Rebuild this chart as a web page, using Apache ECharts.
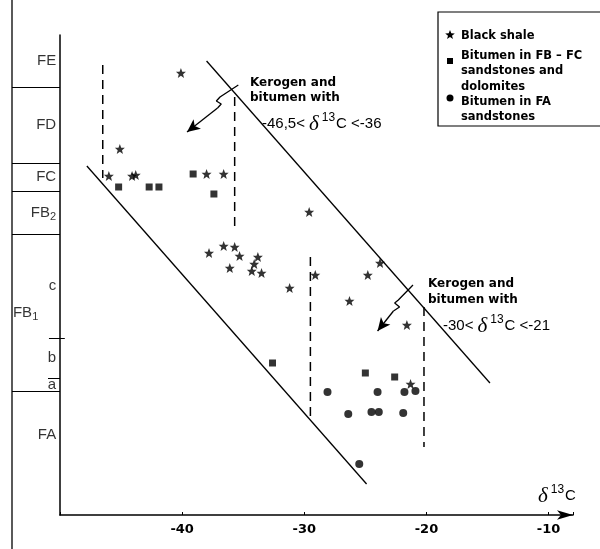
<!DOCTYPE html>
<html>
<head>
<meta charset="utf-8">
<script src="https://cdn.jsdelivr.net/npm/echarts@6/dist/echarts.min.js"></script>
<style>
  html, body { margin: 0; padding: 0; background: #fff; }
  #chart { width: 600px; height: 549px; }
</style>
</head>
<body>
<div id="chart"></div>
<script>
// δ13C (x) against stratigraphic height (y, arbitrary units, 0 = base)
const blackShale = [
  [-40.1, 44.2], [-45.1, 36.6], [-46.0, 33.9], [-44.1, 33.9], [-43.8, 34.0], [-38.0, 34.1], [-36.6, 34.1],
  [-29.6, 30.3], [-37.8, 26.2], [-36.6, 26.9], [-35.7, 26.8], [-35.3, 25.9], [-33.8, 25.8], [-34.1, 25.1],
  [-36.1, 24.7], [-34.3, 24.4], [-33.5, 24.2], [-31.2, 22.7], [-29.1, 24.0], [-24.8, 24.0], [-23.8, 25.2],
  [-26.3, 21.4], [-21.6, 19.0], [-21.3, 13.1]
];
const bitumenFBFC = [
  [-45.2, 32.8], [-42.7, 32.8], [-41.9, 32.8], [-39.1, 34.1], [-37.4, 32.1], [-32.6, 15.2], [-25.0, 14.2], [-22.6, 13.8]
];
const bitumenFA = [
  [-28.1, 12.3], [-24.0, 12.3], [-21.8, 12.3], [-20.9, 12.4], [-26.4, 10.1], [-24.5, 10.3], [-23.9, 10.3],
  [-21.9, 10.2], [-25.5, 5.1]
];

// envelope lines
const upperBound = [[-38.0, 45.4], [-14.8, 13.2]];
const lowerBound = [[-47.8, 34.9], [-24.9, 3.1]];

// δ13C cut-offs drawn dashed: x, top, bottom
const cutoffX = [-46.5, -35.7, -29.5, -20.2];
const cutoffTop = [45.0, 41.8, 25.8, 20.8];
const cutoffBase = [33.7, 28.5, 9.7, 6.8];

// zigzag arrows pointing at each field
const arrowLeft = [[-35.4, 43.0], [-36.9, 41.8], [-37.2, 41.4], [-36.8, 41.1], [-37.1, 40.7], [-39.6, 38.3]];
const arrowRight = [[-21.1, 23.0], [-22.3, 21.5], [-22.6, 21.2], [-22.2, 20.8], [-22.7, 20.4], [-24.0, 18.4]];

// stratigraphic column
const units = ['FE', 'FD', 'FC', 'FB{sub|2}', 'FA'];
const unitTops = [48, 42.8, 35.2, 32.4, 12.4];
const unitBases = [42.8, 35.2, 32.4, 28.1, 3.6];
const fb1Top = 28.1, fb1Base = 12.4;
const subUnits = ['c', 'b', 'a'];
const subTops = [28.1, 17.7, 13.7];
const subBases = [17.7, 13.7, 12.4];

const xTicks = [-40, -30, -20, -10];

const starPath = 'path://M0,-10L2.6,-3.4L9.5,-3.1L4.1,1.3L5.9,8.1L0,4.2L-5.9,8.1L-4.1,1.3L-9.5,-3.1L-2.6,-3.4Z';
const boldFont = '"DejaVu Sans", sans-serif';
const plainFont = '"Liberation Sans", Arial, sans-serif';
const greek = { fontSize: 21, fontStyle: 'italic', fontFamily: '"Liberation Serif", serif', padding: [0, 3, 0, 4] };
const sup = { fontSize: 12, padding: [0, 1, 13, 0] };

const chart = echarts.init(document.getElementById('chart'));

const mid = (a, b) => (a + b) / 2;
const colLabels = units.map((u, i) => ({ value: [0.92, mid(unitTops[i], unitBases[i])], name: u }))
  .concat(subUnits.map((u, i) => ({ value: [0.92, mid(subTops[i], subBases[i])], name: u })));

const cutoffSeries = cutoffX.map((x, i) => ({
  type: 'line', silent: true, symbol: 'none',
  data: [[x, cutoffTop[i]], [x, cutoffBase[i]]],
  lineStyle: { color: '#000', width: 1.5, type: [9, 6] }
}));

function arrowSeries(pts) {
  const n = pts.length;
  return {
    type: 'line', silent: true, symbol: 'none',
    data: pts.slice(0, n - 1),
    lineStyle: { color: '#000', width: 1.3 },
    markLine: {
      silent: true, symbol: ['none', 'arrow'], symbolSize: [9, 13],
      label: { show: false },
      lineStyle: { color: '#000', width: 1.3, type: 'solid' },
      data: [[{ coord: pts[n - 2] }, { coord: pts[n - 1] }]]
    }
  };
}

chart.setOption({
  animation: false,
  grid: [
    { left: 60, right: 27, top: 35, bottom: 34 },
    { left: 12, width: 57.6, top: 35, bottom: 34 }
  ],
  xAxis: [
    {
      type: 'value', min: -50, max: -8, interval: 10,
      axisLine: { show: true, onZero: false, symbol: ['none', 'arrow'], symbolSize: [7, 16], lineStyle: { color: '#000', width: 1.6 } },
      axisTick: { show: true, inside: true, length: 3, lineStyle: { color: '#000' } },
      axisLabel: {
        color: '#000', fontFamily: boldFont, fontWeight: 'bold', fontSize: 13, margin: 8,
        formatter: v => (xTicks.indexOf(v) >= 0 ? String(v) : '')
      },
      splitLine: { show: false }
    },
    { gridIndex: 1, type: 'value', min: 0, max: 1.2, show: false }
  ],
  yAxis: [
    {
      type: 'value', min: 0, max: 48,
      axisLine: { show: true, onZero: false, lineStyle: { color: '#000', width: 1.5 } },
      axisTick: { show: false }, axisLabel: { show: false }, splitLine: { show: false }
    },
    { gridIndex: 1, type: 'value', min: 0, max: 48, show: false }
  ],
  series: [
    {
      name: 'Black shale', type: 'scatter', data: blackShale,
      symbol: starPath, symbolSize: 10, itemStyle: { color: '#000' }
    },
    {
      name: 'Bitumen in FB - FC sandstones and dolomites', type: 'scatter', data: bitumenFBFC,
      symbol: 'rect', symbolSize: 7, itemStyle: { color: '#000' }
    },
    {
      name: 'Bitumen in FA sandstones', type: 'scatter', data: bitumenFA,
      symbol: 'circle', symbolSize: 8, itemStyle: { color: '#000' }
    },
    { type: 'line', silent: true, symbol: 'none', data: upperBound, lineStyle: { color: '#000', width: 1.3 } },
    { type: 'line', silent: true, symbol: 'none', data: lowerBound, lineStyle: { color: '#000', width: 1.3 } },
    ...cutoffSeries,
    arrowSeries(arrowLeft),
    arrowSeries(arrowRight),
    // column boundaries
    {
      type: 'line', xAxisIndex: 1, yAxisIndex: 1, data: [], silent: true,
      markLine: {
        silent: true, symbol: 'none', label: { show: false },
        lineStyle: { color: '#000', width: 1, type: 'solid' },
        data: unitBases.slice(0, -1).concat([fb1Base]).map(v => [{ coord: [0, v] }, { coord: [1, v] }])
          .concat(subBases.slice(0, 2).map((v, i) => [{ coord: [i === 0 ? 0.77 : 0.75, v] }, { coord: [i === 0 ? 1.1 : 1, v] }]))
      }
    },
    {
      type: 'scatter', xAxisIndex: 1, yAxisIndex: 1, silent: true, symbolSize: 0,
      data: colLabels,
      label: {
        show: true, position: 'left', distance: 0, formatter: p => p.name,
        color: '#000', fontFamily: plainFont, fontSize: 15,
        rich: { sub: { fontFamily: plainFont, fontSize: 11, padding: [9, 0, 0, 0] } }
      }
    },
    {
      type: 'scatter', xAxisIndex: 1, yAxisIndex: 1, silent: true, symbolSize: 0,
      data: [{ value: [0.02, mid(fb1Top, fb1Base)], name: 'FB{sub|1}' }],
      label: {
        show: true, position: 'right', distance: 0, formatter: p => p.name,
        color: '#000', fontFamily: plainFont, fontSize: 15,
        rich: { sub: { fontFamily: plainFont, fontSize: 11, padding: [9, 0, 0, 0] } }
      }
    }
  ],
  graphic: [
    // left edge of the column
    { type: 'line', shape: { x1: 12, y1: 0, x2: 12, y2: 549 }, style: { stroke: '#000', lineWidth: 1.3 } },
    // annotations
    {
      type: 'text', x: 250, y: 75,
      style: { text: 'Kerogen and\nbitumen with', font: 'bold 12px ' + boldFont, lineHeight: 15, fill: '#000' }
    },
    {
      type: 'text', x: 262, y: 124,
      style: {
        text: '-46,5<{d|δ}{s|13}C <-36', font: '15px ' + plainFont, fill: '#000', verticalAlign: 'middle',
        rich: { d: greek, s: sup }
      }
    },
    {
      type: 'text', x: 428, y: 276,
      style: { text: 'Kerogen and\nbitumen with', font: 'bold 12px ' + boldFont, lineHeight: 16, fill: '#000' }
    },
    {
      type: 'text', x: 443, y: 326,
      style: {
        text: '-30<{d|δ}{s|13}C <-21', font: '15px ' + plainFont, fill: '#000', verticalAlign: 'middle',
        rich: { d: greek, s: sup }
      }
    },
    // axis title
    {
      type: 'text', x: 534, y: 496,
      style: {
        text: '{d|δ}{s|13}C', font: '15px ' + plainFont, fill: '#000', verticalAlign: 'middle',
        rich: { d: greek, s: sup }
      }
    },
    // legend box (runs off the right edge)
    { type: 'rect', shape: { x: 438, y: 12, width: 200, height: 114 }, style: { fill: '#fff', stroke: '#000', lineWidth: 1.2 } },
    {
      type: 'polygon',
      shape: { points: [[450, 30], [451.3, 33.3], [454.8, 33.5], [452, 35.7], [453, 39], [450, 37.1], [447, 39], [448, 35.7], [445.2, 33.5], [448.7, 33.3]] },
      style: { fill: '#000' }
    },
    { type: 'rect', shape: { x: 447, y: 58, width: 6, height: 6 }, style: { fill: '#000' } },
    { type: 'circle', shape: { cx: 450, cy: 98, r: 3.5 }, style: { fill: '#000' } },
    {
      type: 'text', x: 461, y: 28,
      style: { text: 'Black shale', font: 'bold 11.5px ' + boldFont, lineHeight: 15.5, fill: '#000' }
    },
    {
      type: 'text', x: 461, y: 48,
      style: { text: 'Bitumen in FB – FC\nsandstones and\ndolomites', font: 'bold 11.5px ' + boldFont, lineHeight: 15.5, fill: '#000' }
    },
    {
      type: 'text', x: 461, y: 94,
      style: { text: 'Bitumen in FA\nsandstones', font: 'bold 11.5px ' + boldFont, lineHeight: 15.5, fill: '#000' }
    }
  ]
});
</script>
</body>
</html>
